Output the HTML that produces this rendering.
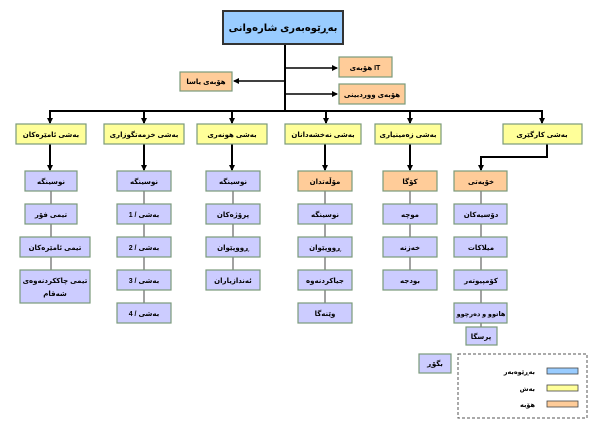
<!DOCTYPE html>
<html><head><meta charset="utf-8"><style>
html,body{margin:0;padding:0;background:#fff;width:600px;height:432px;overflow:hidden}
svg text{font-family:"Liberation Sans","DejaVu Sans",sans-serif;font-size:7px;font-weight:bold;fill:#000;text-anchor:middle}
</style></head><body>
<svg width="600" height="432" viewBox="0 0 600 432" xmlns="http://www.w3.org/2000/svg">
<defs><marker id="a" markerWidth="6" markerHeight="6" refX="5" refY="3" orient="auto" markerUnits="userSpaceOnUse"><path d="M0,0 L6,3 L0,6 z" fill="#000"/></marker></defs>
<g stroke="#000" stroke-width="2" fill="none">
<line x1="285" y1="44" x2="285" y2="111"/>
<line x1="285" y1="68" x2="337" y2="68" marker-end="url(#a)" stroke-width="1.5"/>
<line x1="285" y1="81" x2="234" y2="81" marker-end="url(#a)" stroke-width="1.5"/>
<line x1="285" y1="94" x2="337" y2="94" marker-end="url(#a)" stroke-width="1.5"/>
<line x1="49" y1="111" x2="543" y2="111"/>
<line x1="50" y1="111" x2="50" y2="123" marker-end="url(#a)"/>
<line x1="144" y1="111" x2="144" y2="123" marker-end="url(#a)"/>
<line x1="232" y1="111" x2="232" y2="123" marker-end="url(#a)"/>
<line x1="326" y1="111" x2="326" y2="123" marker-end="url(#a)"/>
<line x1="410" y1="111" x2="410" y2="123" marker-end="url(#a)"/>
<line x1="542" y1="111" x2="542" y2="123" marker-end="url(#a)"/>
<line x1="50" y1="144" x2="50" y2="170" marker-end="url(#a)"/>
<line x1="144" y1="144" x2="144" y2="170" marker-end="url(#a)"/>
<line x1="232" y1="144" x2="232" y2="170" marker-end="url(#a)"/>
<line x1="325" y1="144" x2="325" y2="170" marker-end="url(#a)"/>
<line x1="410" y1="144" x2="410" y2="170" marker-end="url(#a)"/>
<polyline points="547,144 547,157 481,157 481,170" marker-end="url(#a)"/>
</g>
<g stroke="#444" stroke-width="1">
<line x1="51" y1="191" x2="51" y2="270"/>
<line x1="144" y1="191" x2="144" y2="303"/>
<line x1="233" y1="191" x2="233" y2="270"/>
<line x1="325" y1="191" x2="325" y2="303"/>
<line x1="410" y1="191" x2="410" y2="270"/>
<line x1="481" y1="191" x2="481" y2="327"/>
</g>
<rect x="223" y="11" width="120" height="33" fill="#99ccff" stroke="#333" stroke-width="2"/>
<text x="283" y="31" style="font-size:10px">بەڕێوەبەری شارەوانی</text>
<g stroke="#7a9a7a" stroke-width="1.2" fill="#ffcc99">
<rect x="339" y="57" width="53" height="20"/>
<rect x="180" y="72" width="52" height="19"/>
<rect x="339" y="84" width="66" height="20"/>
</g>
<text x="365" y="70">هۆبەی IT</text>
<text x="206" y="84">هۆبەی یاسا</text>
<text x="372" y="97">هۆبەی ووردبینی</text>
<g stroke="#7a9a7a" stroke-width="1.2" fill="#ffff99">
<rect x="16" y="124" width="70" height="20"/>
<rect x="104" y="124" width="80" height="20"/>
<rect x="197" y="124" width="70" height="20"/>
<rect x="285" y="124" width="76" height="20"/>
<rect x="375" y="124" width="66" height="20"/>
<rect x="503" y="124" width="79" height="20"/>
</g>
<text x="51" y="137">بەشی ئامێرەکان</text>
<text x="144" y="137">بەشی خزمەتگوزاری</text>
<text x="232" y="137">بەشی هونەری</text>
<text x="323" y="137">بەشی نەخشەدانان</text>
<text x="408" y="137">بەشی زەمینیاری</text>
<text x="542" y="137">بەشی کارگێری</text>
<g stroke="#7a9a7a" stroke-width="1.2" fill="#ffcc99">
<rect x="298" y="171" width="54" height="20"/>
<rect x="383" y="171" width="54" height="20"/>
<rect x="454" y="171" width="53" height="20"/>
</g>
<g stroke="#7a9a7a" stroke-width="1.2" fill="#ccccff">
<rect x="25" y="171" width="52" height="20"/><rect x="25" y="204" width="52" height="20"/><rect x="20" y="237" width="70" height="20"/><rect x="20" y="270" width="70" height="33"/>
<rect x="117" y="171" width="54" height="20"/><rect x="117" y="204" width="54" height="20"/><rect x="117" y="237" width="54" height="20"/><rect x="117" y="270" width="54" height="20"/><rect x="117" y="303" width="54" height="20"/>
<rect x="206" y="171" width="54" height="20"/><rect x="206" y="204" width="54" height="20"/><rect x="206" y="237" width="54" height="20"/><rect x="206" y="270" width="54" height="20"/>
<rect x="298" y="204" width="54" height="20"/><rect x="298" y="237" width="54" height="20"/><rect x="298" y="270" width="54" height="20"/><rect x="298" y="303" width="54" height="20"/>
<rect x="383" y="204" width="54" height="20"/><rect x="383" y="237" width="54" height="20"/><rect x="383" y="270" width="54" height="20"/>
<rect x="454" y="204" width="53" height="20"/><rect x="454" y="237" width="53" height="20"/><rect x="454" y="270" width="53" height="20"/><rect x="454" y="303" width="53" height="20"/><rect x="466" y="327" width="31" height="18"/>
<rect x="419" y="354" width="32" height="19"/>
</g>
<text x="51" y="184">نوسینگە</text><text x="51" y="217">تیمی فۆر</text><text x="55" y="250">تیمی ئامێرەکان</text><text x="55" y="283">تیمی چاککردنەوەی</text><text x="55" y="296">شەقام</text>
<text x="144" y="184">نوسینگە</text><text x="144" y="217">بەشی / 1</text><text x="144" y="250">بەشی / 2</text><text x="144" y="283">بەشی / 3</text><text x="144" y="316">بەشی / 4</text>
<text x="233" y="184">نوسینگە</text><text x="233" y="217">پرۆژەکان</text><text x="233" y="250">ڕووپێوان</text><text x="233" y="283">ئەندازیاران</text>
<text x="325" y="184">مۆڵەتدان</text><text x="325" y="217">نوسینگە</text><text x="325" y="250">ڕووپێوان</text><text x="325" y="283">جیاکردنەوە</text><text x="325" y="316">وێنەگا</text>
<text x="410" y="184">کۆگا</text><text x="410" y="217">موچە</text><text x="410" y="250">خەزنە</text><text x="410" y="283">بودجە</text>
<text x="481" y="184">خۆیەتی</text><text x="481" y="217">دۆسیەکان</text><text x="481" y="250">میلاکات</text><text x="481" y="283">کۆمپیوتەر</text><text x="481" y="316" style="font-size:6.5px">هاتوو و دەرچوو</text><text x="481" y="339">پرسگا</text>
<text x="435" y="366">بگۆڕ</text>
<rect x="458" y="354" width="129" height="64" fill="none" stroke="#555" stroke-dasharray="3,2"/>
<rect x="547" y="368" width="31" height="6" fill="#99ccff" stroke="#444" stroke-width="0.8"/>
<rect x="547" y="385" width="31" height="6" fill="#ffff99" stroke="#444" stroke-width="0.8"/>
<rect x="547" y="401" width="31" height="6" fill="#ffcc99" stroke="#444" stroke-width="0.8"/>
<text x="535" y="374" style="text-anchor:end;font-size:6.5px">بەڕێوەبەر</text>
<text x="535" y="391" style="text-anchor:end;font-size:6.5px">بەش</text>
<text x="535" y="407" style="text-anchor:end;font-size:6.5px">هۆبە</text>
</svg>
</body></html>
